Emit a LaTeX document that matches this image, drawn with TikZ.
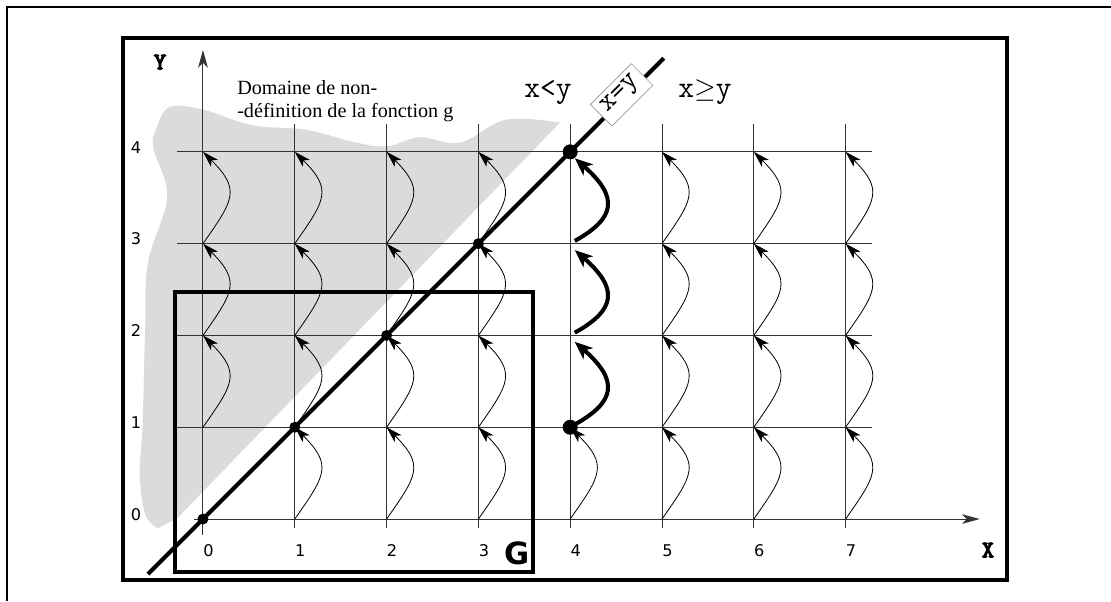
\documentclass[tikz,border=0pt]{standalone}
\usepackage{fontspec}
\setsansfont{DejaVu Sans}
\newfontfamily\notefont{Liberation Serif}
\newfontfamily\axisfont{lmmonolt10-bold.otf}[FakeBold=3]
\usetikzlibrary{positioning}
\usetikzlibrary{arrows.meta}

\begin{document}
\begin{tikzpicture}[x=2cm, y=2cm,
		% frames, grid and axes
		frame/.style={line width=2.5pt},
		gridline/.style={line width=0.6pt, black!80},
		axis/.style={gridline, -{Stealth[length=11pt, width=6pt, inset=3pt]}},
		blob/.style={fill=black!14},
		% arrows between grid points
		stepto/.style={line width=0.5pt, -{Stealth[length=10pt, width=6pt, inset=2.5pt]}, out=55, in=-45, looseness=1.5},
		jumpto/.style={line width=2.5pt, -{Stealth[length=11pt, width=9pt, inset=3pt]}},
		gdot/.style={circle, fill=black, inner sep=0pt, minimum size=#1},
		gdot/.default=6.8pt,
		% labels
		ticklab/.style={font=\sffamily\fontsize{10}{12}\selectfont, inner sep=0pt},
		ttlab/.style={font=\ttfamily\fontsize{19}{22}\selectfont, inner sep=0pt},
		axlab/.style={font=\axisfont\fontsize{15}{17}\selectfont, inner sep=0pt},
		notelab/.style={font=\notefont\fontsize{12.5}{14.2}\selectfont, inner sep=0pt, align=left},
		xylab/.style={font=\ttfamily\fontsize{18}{20}\selectfont, fill=white, draw=black!40, line width=0.4pt, inner xsep=4pt, minimum height=19pt},
		]
		\useasboundingbox (-2.211,-0.893) rectangle (9.891,5.654);
		\draw[line width=1.1pt] (-2.135,-0.893) |- (9.891,5.578);

		% grid points
		\foreach \i in {0,...,7}
			\foreach \j in {0,...,4}
				\coordinate (p\i\j) at (\i,\j);

		% shaded domain
		\fill[blob] (-0.28,0.01) -- plot[smooth, tension=0.6] coordinates {(3.89,4.32) (3.3,4.35) (2.80,4.10) (2.36,4.16) (2.0,4.06) (1.63,4.11) (1.13,4.24) (0.54,4.29) (0.0,4.46) (-0.36,4.49) (-0.5,4.27) (-0.54,4.04) (-0.39,3.51) (-0.6,2.79) (-0.63,2.06) (-0.66,0.97) (-0.69,0.5) (-0.63,0.05) (-0.49,-0.1)} -- cycle;

		% grid and axes
		\foreach \j in {1,...,4}
			\draw[gridline] (-0.28,\j) -- (7.29,\j);
		\foreach \i in {1,...,7}
			\draw[gridline] (\i,-0.1) -- (\i,4.3);
		\draw[axis] (-0.1,0) -- (8.46,0);
		\draw[axis] (0,-0.17) -- (0,5.11);

		% steps g(x,y) -> g(x,y+1)
		\foreach \i in {1,2,3,5,6,7}
			\foreach \j/\k in {0/1,1/2,2/3,3/4}
				\draw[stepto] (p\i\j) to (p\i\k);
		\foreach \j/\k in {1/2,2/3,3/4}
			\draw[stepto] (p0\j) to (p0\k);
		\draw[stepto] (p40) to (p41);
		\foreach \j/\k in {1/2,2/3,3/4}
			\draw[jumpto] ([shift={(0.05,0.03)}]p4\j) .. controls +(0.45,0.25) and +(0.48,-0.42) .. ([shift={(0.05,-0.07)}]p4\k);

		% diagonal x=y
		\coordinate (dstart) at (-0.6,-0.6);
		\coordinate (dend) at (5.02,5.02);
		\draw[line width=2.5pt] (dstart) -- (dend);
		\node[xylab, rotate=45] (xy) at (4.56,4.62) {x=y};
		\foreach \i in {0,...,3}
			\node[gdot] (d\i) at (p\i\i) {};
		\node[gdot=9.3pt] (d4) at (p44) {};
		\node[gdot=9.3pt] (d41) at (p41) {};

		% frames
		\draw[frame] (-0.871,-0.664) rectangle (8.758,5.240);
		\draw[frame] (-0.305,-0.577) rectangle (3.595,2.473);

		% labels
		\foreach \i in {0,...,7}
			\node[ticklab] (tx\i) at (\i+0.06,-0.34) {\i};
		\foreach \j in {0,...,4}
			\node[ticklab] (ty\j) at (-0.73,\j+0.05) {\j};
		\node[axlab] (ylab) at (-0.468,4.978) {Y};
		\node[axlab] (xlab) at (8.551,-0.338) {X};
		\node[ttlab] (lt) at (3.758,4.651) {x<y};
		\node[ttlab] (ge) at (5.468,4.651) {x$\geq$y};
		\node[font=\sffamily\bfseries\fontsize{19}{22}\selectfont, inner sep=0pt] (glab) at (3.42,-0.37) {G};
		\node[notelab, anchor=west] (domaine) at (0.37,4.55) {Domaine de non-\\-définition de la fonction g};

	\end{tikzpicture}
\end{document}
